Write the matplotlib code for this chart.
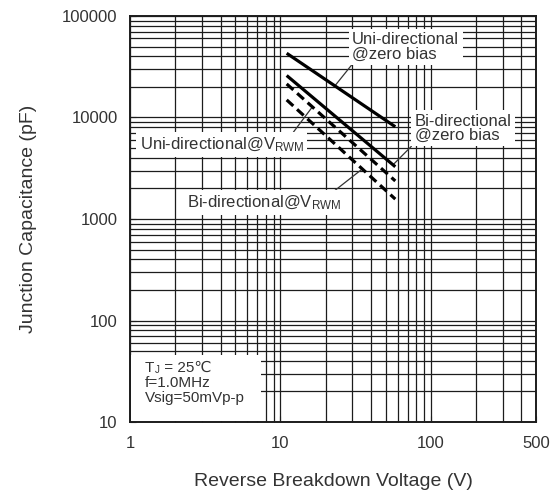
import matplotlib
matplotlib.use("Agg")
import matplotlib.pyplot as plt
from matplotlib.patches import Rectangle
from matplotlib.ticker import FixedLocator, LogLocator, NullFormatter
import numpy as np

plt.rcParams["font.family"] = ["Liberation Sans", "DejaVu Sans"]
plt.rcParams["mathtext.default"] = "regular"

# breakdown voltage range covered by the curves (V)
voltage = [11, 58]
# junction capacitance at each end (pF)
uni_zero = [42900, 8100]
bi_zero = [25900, 3270]
uni_vrwm = [21400, 2370]
bi_vrwm = [14900, 1570]

x_ticks = [1, 10, 100, 500]
x_ticklabels = ["1", "10", "100", "500"]
y_ticks = [10, 100, 1000, 10000, 100000]
y_ticklabels = ["10", "100", "1000", "10000", "100000"]

text_c = "#333333"


def on_curve(v, xs, ys):
    """Capacitance on a straight log-log segment at voltage v."""
    return 10 ** np.interp(np.log10(v), np.log10(xs), np.log10(ys))


fig = plt.figure(figsize=(5.59, 4.94), dpi=100)
ax = fig.add_axes([0.2326, 0.1457, 0.7263, 0.822])
ax.set_xscale("log")
ax.set_yscale("log")
ax.set_xlim(1, 500)
ax.set_ylim(10, 100000)

ax.set_axisbelow(True)
ax.xaxis.set_major_locator(FixedLocator(x_ticks))
ax.xaxis.set_minor_locator(LogLocator(base=10, subs=np.arange(2, 10), numticks=20))
ax.yaxis.set_major_locator(FixedLocator(y_ticks))
ax.yaxis.set_minor_locator(LogLocator(base=10, subs=np.arange(2, 10), numticks=20))
ax.set_xticklabels(x_ticklabels)
ax.set_yticklabels(y_ticklabels)
ax.xaxis.set_minor_formatter(NullFormatter())
ax.yaxis.set_minor_formatter(NullFormatter())
ax.grid(True, which="both", color="#1c1c1c", lw=0.9)
ax.tick_params(which="both", direction="in", colors="#1c1c1c", labelcolor=text_c,
               labelsize=12)
ax.tick_params(which="major", length=4)
ax.tick_params(which="minor", length=3)
ax.tick_params(axis="y", pad=9)
ax.tick_params(axis="x", pad=10)
for s in ax.spines.values():
    s.set_linewidth(1.4)
    s.set_color("#1c1c1c")

ax.plot(voltage, uni_zero, color="black", lw=2.3, solid_capstyle="butt", zorder=5)
ax.plot(voltage, bi_zero, color="black", lw=2.3, solid_capstyle="butt", zorder=5)
ax.plot(voltage, uni_vrwm, color="black", lw=2.3, ls=(0, (2.8, 1.6)), zorder=5)
ax.plot(voltage, bi_vrwm, color="black", lw=2.3, ls=(0, (2.8, 1.6)), zorder=5)

box = dict(boxstyle="square,pad=0.2", fc="white", ec="none")
lead = dict(arrowstyle="-", color="#333333", lw=0.9, shrinkA=0, shrinkB=0)

ax.annotate("Uni-directional\n@zero bias", xy=(23, on_curve(23, voltage, uni_zero)),
            xytext=(30, 35500), ha="left", va="bottom", fontsize=12, color=text_c,
            linespacing=0.95, bbox=box, arrowprops=dict(lead, relpos=(0.02, 0.0)))
ax.annotate("Bi-directional\n@zero bias", xy=(56, on_curve(56, voltage, bi_zero)),
            xytext=(78, 5600), ha="left", va="bottom", fontsize=12, color=text_c,
            linespacing=0.95, bbox=box, arrowprops=dict(lead, relpos=(0.0, 0.0)))
ax.annotate("Uni-directional@V$_{RWM}$", xy=(16.3, on_curve(16.3, voltage, uni_vrwm)),
            xytext=(1.157, 5400), ha="left", va="center", fontsize=12, color=text_c,
            bbox=box, arrowprops=dict(lead, relpos=(0.92, 1.0)))
ax.annotate("Bi-directional@V$_{RWM}$", xy=(35, on_curve(35, voltage, bi_vrwm)),
            xytext=(2.40, 1440), ha="left", va="center", fontsize=12, color=text_c,
            bbox=box, arrowprops=dict(lead, relpos=(0.93, 1.0)))

# test conditions, lower left corner
ax.add_patch(Rectangle((0.003, 0.003), 0.32, 0.163, transform=ax.transAxes,
                       fc="white", ec="none", zorder=3))
cond = dict(transform=ax.transAxes, ha="left", va="bottom", fontsize=11,
            color=text_c, zorder=4)
t_T = ax.text(0.037, 0.117, "T", **cond)
t_J = ax.annotate("J", xy=(1, 0), xycoords=t_T, xytext=(0.3, -0.5),
                  textcoords="offset points", ha="left", va="bottom",
                  fontsize=7, color=text_c, zorder=4)
ax.annotate(" = 25\u2103", xy=(1, 0), xycoords=(t_J, t_T), ha="left", va="bottom",
            fontsize=11, color=text_c, zorder=4)
ax.text(0.037, 0.079, "f=1.0MHz", **cond)
ax.text(0.037, 0.041, "Vsig=50mVp-p", **cond)

ax.set_xlabel("Reverse Breakdown Voltage (V)", fontsize=14, color=text_c, labelpad=16)
ax.set_ylabel("Junction Capacitance (pF)", fontsize=14, color=text_c, labelpad=18)

fig.savefig("out.png", dpi=100)
